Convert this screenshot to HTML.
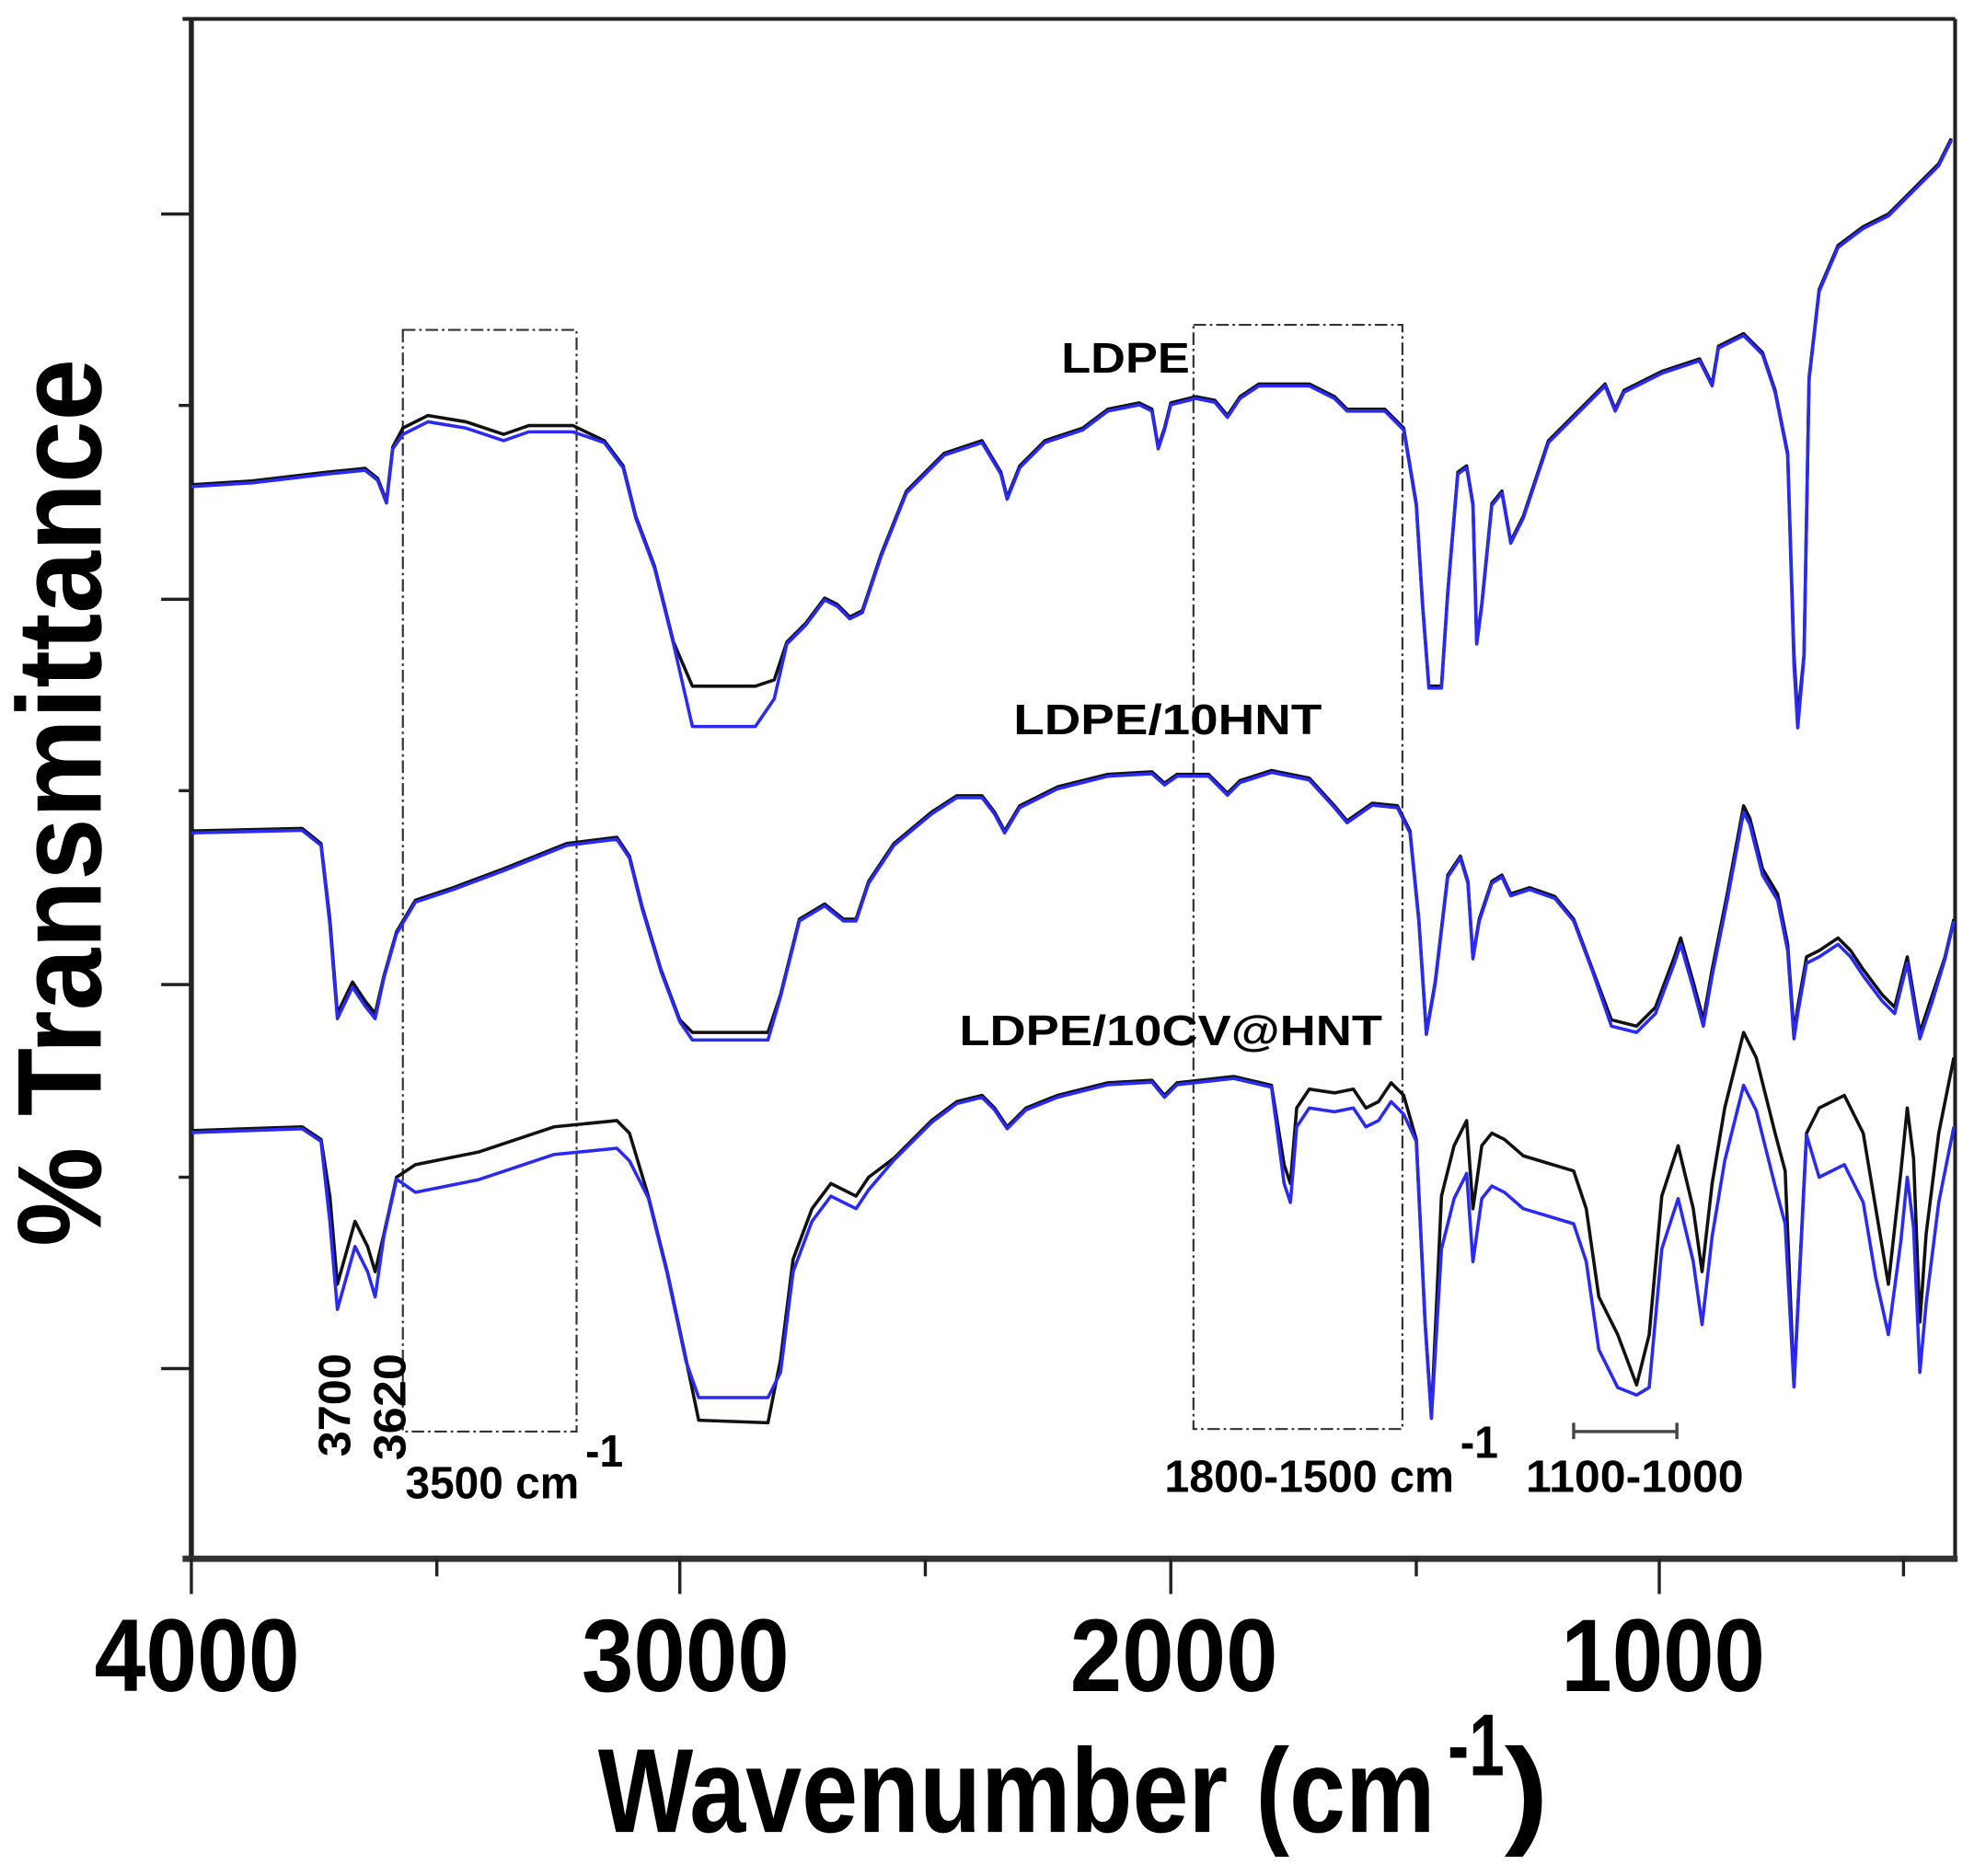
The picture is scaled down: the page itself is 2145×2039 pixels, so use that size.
<!DOCTYPE html>
<html><head><meta charset="utf-8"><style>
html,body{margin:0;padding:0;background:#fff}
svg{display:block}
text{font-family:"Liberation Sans",sans-serif;font-weight:bold;fill:#000}
</style></head><body>
<svg id="s" width="2145" height="2039" viewBox="0 0 1568 1490" preserveAspectRatio="none" xmlns="http://www.w3.org/2000/svg">
<rect width="1568" height="1490" fill="#fff"/>
<line x1="145" y1="15" x2="1553" y2="15" stroke="#222" stroke-width="3"/>
<line x1="152" y1="15" x2="152" y2="1238" stroke="#222" stroke-width="4"/>
<line x1="1553" y1="15" x2="1553" y2="1240" stroke="#222" stroke-width="3"/>
<line x1="145" y1="1238" x2="1555" y2="1238" stroke="#333" stroke-width="5"/>
<g stroke="#222" stroke-width="2.5">
<line x1="152" y1="1238" x2="152" y2="1266"/><line x1="540" y1="1238" x2="540" y2="1266"/>
<line x1="930" y1="1238" x2="930" y2="1266"/><line x1="1318" y1="1238" x2="1318" y2="1266"/>
<line x1="347" y1="1238" x2="347" y2="1252"/><line x1="735" y1="1238" x2="735" y2="1252"/>
<line x1="1125" y1="1238" x2="1125" y2="1252"/><line x1="1512" y1="1238" x2="1512" y2="1252"/>
<line x1="128" y1="170" x2="152" y2="170"/><line x1="128" y1="476" x2="152" y2="476"/>
<line x1="128" y1="782" x2="152" y2="782"/><line x1="128" y1="1087" x2="152" y2="1087"/>
<line x1="142" y1="322" x2="152" y2="322"/><line x1="142" y1="628" x2="152" y2="628"/>
<line x1="142" y1="935" x2="152" y2="935"/>
</g>
<g font-size="82">
<text x="75" y="1343" textLength="163" lengthAdjust="spacingAndGlyphs">4000</text>
<text x="462" y="1343" textLength="165" lengthAdjust="spacingAndGlyphs">3000</text>
<text x="850" y="1343" textLength="165" lengthAdjust="spacingAndGlyphs">2000</text>
<text x="1240" y="1343" textLength="162" lengthAdjust="spacingAndGlyphs">1000</text>
</g>
<text x="475" y="1455" font-size="95" textLength="665" lengthAdjust="spacingAndGlyphs">Wavenumber (cm</text>
<text x="1150" y="1410" font-size="70" textLength="45" lengthAdjust="spacingAndGlyphs">-1</text>
<text x="1195" y="1455" font-size="95" textLength="35" lengthAdjust="spacingAndGlyphs">)</text>
<text transform="translate(80,990) rotate(-90)" font-size="95" textLength="705" lengthAdjust="spacingAndGlyphs">% Transmittance</text>
<g fill="none" stroke="#333" stroke-width="1.6" stroke-dasharray="10,3,2,3">
<rect x="320" y="262" width="138" height="875"/>
<rect x="948" y="258" width="166" height="877"/>
</g>
<g stroke="#444" stroke-width="2.5"><line x1="1250" y1="1137" x2="1332" y2="1137"/><line x1="1250" y1="1130" x2="1250" y2="1143"/><line x1="1332" y1="1130" x2="1332" y2="1143"/></g>
<g font-size="34">
<text x="843" y="296" textLength="102" lengthAdjust="spacingAndGlyphs">LDPE</text>
<text x="805" y="583" textLength="245" lengthAdjust="spacingAndGlyphs">LDPE/10HNT</text>
<text x="762" y="830" textLength="336" lengthAdjust="spacingAndGlyphs">LDPE/10CV@HNT</text>
</g>
<g font-size="36">
<text transform="translate(278,1157) rotate(-90)" textLength="82" lengthAdjust="spacingAndGlyphs">3700</text>
<text transform="translate(322,1160) rotate(-90)" textLength="85" lengthAdjust="spacingAndGlyphs">3620</text>
<text x="322" y="1190" textLength="138" lengthAdjust="spacingAndGlyphs">3500 cm</text>
<text x="465" y="1165" textLength="30" lengthAdjust="spacingAndGlyphs">-1</text>
<text x="925" y="1185" textLength="230" lengthAdjust="spacingAndGlyphs">1800-1500 cm</text>
<text x="1160" y="1158" textLength="30" lengthAdjust="spacingAndGlyphs">-1</text>
<text x="1212" y="1185" textLength="173" lengthAdjust="spacingAndGlyphs">1100-1000</text>
</g>
<g id="curves" fill="none" stroke-width="2.6" stroke-linejoin="round"></g>
</svg>
<script>
var top1=[[152,385],[200,382],[260,375],[290,372],[300,380],[307,398],[312,355],[320,340],[340,330],[370,335],[400,345],[420,338],[455,338],[480,350],[495,370],[505,410],[520,450],[535,510],[550,545],[600,545],[615,540],[625,510],[640,495],[655,475],[665,480],[675,490],[685,485],[700,440],[720,390],[750,360],[780,350],[795,375],[800,395],[810,370],[830,350],[860,340],[880,325],[905,320],[915,325],[920,355],[925,340],[930,320],[950,315],[965,318],[975,330],[985,315],[1000,305],[1040,305],[1060,315],[1070,325],[1100,325],[1115,340],[1125,400],[1130,480],[1135,545],[1145,545],[1150,470],[1158,375],[1165,370],[1170,400],[1173,510],[1177,480],[1185,400],[1193,390],[1200,430],[1210,410],[1230,350],[1260,320],[1275,305],[1283,325],[1290,310],[1320,295],[1350,285],[1360,305],[1365,275],[1385,265],[1400,280],[1410,310],[1420,360],[1425,520],[1428,570],[1433,520],[1437,300],[1445,230],[1460,195],[1480,180],[1500,170],[1515,155],[1540,130],[1550,110]];
var mid=[[152,660],[240,658],[255,670],[262,730],[268,805],[280,780],[290,795],[298,805],[305,775],[315,740],[330,715],[360,705],[400,690],[450,670],[490,665],[500,680],[510,720],[525,770],[540,810],[550,820],[610,820],[620,790],[635,730],[655,718],[670,730],[680,730],[690,700],[710,670],[740,645],[760,632],[780,632],[790,645],[798,660],[810,640],[840,625],[880,615],[915,613],[925,622],[935,615],[960,615],[975,630],[985,620],[1010,612],[1040,618],[1060,640],[1070,652],[1090,638],[1110,640],[1120,660],[1127,730],[1133,820],[1140,780],[1150,695],[1160,680],[1166,700],[1170,760],[1175,730],[1185,700],[1193,695],[1200,710],[1215,705],[1235,712],[1250,730],[1265,770],[1280,810],[1300,815],[1315,800],[1330,760],[1335,745],[1345,780],[1353,810],[1360,770],[1372,710],[1385,640],[1390,650],[1400,690],[1412,710],[1420,750],[1425,820],[1428,800],[1435,760],[1445,755],[1460,745],[1470,755],[1480,770],[1495,790],[1505,800],[1515,760],[1520,790],[1525,820],[1535,790],[1545,760],[1552,730]];
var bot=[[152,898],[240,895],[255,905],[262,950],[268,1020],[282,970],[292,990],[298,1010],[305,980],[315,935],[330,925],[380,915],[440,895],[490,890],[500,900],[515,950],[530,1010],[545,1080],[555,1128],[610,1130],[620,1080],[630,1000],[645,960],[660,940],[680,950],[690,935],[710,920],[740,890],[760,875],[780,870],[790,880],[800,895],[815,880],[840,870],[880,860],[915,858],[925,870],[935,860],[980,855],[1010,862],[1020,925],[1025,940],[1030,880],[1040,865],[1060,868],[1075,865],[1085,880],[1095,875],[1105,860],[1115,870],[1125,905],[1132,1050],[1137,1125],[1145,950],[1155,910],[1165,890],[1170,960],[1177,910],[1185,900],[1195,905],[1210,918],[1250,930],[1260,960],[1270,1030],[1285,1060],[1300,1100],[1310,1060],[1320,950],[1333,910],[1345,960],[1352,1010],[1360,940],[1370,880],[1385,820],[1395,840],[1410,900],[1418,930],[1425,1100],[1430,1000],[1435,900],[1445,880],[1465,870],[1480,900],[1490,960],[1500,1020],[1510,930],[1515,880],[1520,920],[1525,1050],[1530,980],[1540,900],[1552,840]];
function bTop(p){var x=p[0],y=p[1];if(x>=550&&x<=612&&y>=540)y=577;else if(x>=540&&x<=620)y+=15;else if(x>=320&&x<=460)y+=5;else if(x>=1424&&x<=1432)y+=8;else y+=1.5;return [x,y];}
function bMid(p){var x=p[0],y=p[1];if(x>=545&&x<=612)y+=6;else if(x>=262&&x<=300)y+=4;else if(x>=1280&&x<=1540)y+=5;else y+=1.5;return [x,y];}
function bBot(p){var x=p[0],y=p[1];
 if(x>=552&&x<=612&&y>=1120)y=1110;
 else if(x>=262&&x<=300)y+=20;
 else if(x>=320&&x<=500)y+=22;
 else if(x>=620&&x<=690)y+=10;
 else if(x>=1020&&x<=1120)y+=15;
 else if(x>=1140&&x<=1420)y+=(y>1080?8:42);
 else if(x>=1440)y+=(y>1000?40:55);
 else y+=1.5;
 return [x,y];}
function pts(a){return a.map(function(p){return p[0]+','+p[1]}).join(' ');}
var g=document.getElementById('curves');var ns='http://www.w3.org/2000/svg';
function add(a,c){var l=document.createElementNS(ns,'polyline');l.setAttribute('points',pts(a));l.setAttribute('stroke',c);g.appendChild(l);}
add(top1,'#111');add(top1.map(bTop),'#2a2af0');
add(mid,'#111');add(mid.map(bMid),'#2a2af0');
add(bot,'#111');add(bot.map(bBot),'#2a2af0');
</script>
</body></html>
